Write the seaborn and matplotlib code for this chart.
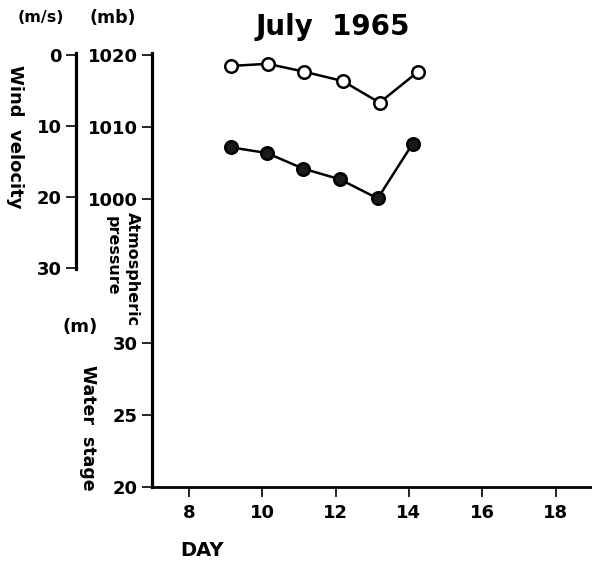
import matplotlib
matplotlib.use("Agg")
import matplotlib.pyplot as plt
import seaborn as sns
import pandas as pd

# ---- data ----
days_open = [9.15, 10.15, 11.15, 12.2, 13.2, 14.25]
pressure_mb = [1018.5, 1018.8, 1017.7, 1016.4, 1013.4, 1017.7]
days_filled = [9.15, 10.13, 11.12, 12.12, 13.15, 14.1]
wind_ms = [13.0, 13.8, 16.0, 17.5, 20.2, 12.5]

x_ticks = [8, 10, 12, 14, 16, 18]
pressure_ticks = [1000, 1010, 1020]
water_ticks = [20, 25, 30]
wind_ticks = [0, 10, 20, 30]

sns.set_style("white")
plt.rcParams["font.family"] = ["DejaVu Sans"]
plt.rcParams["font.weight"] = "bold"
plt.rcParams["text.color"] = "black"
plt.rcParams["axes.labelcolor"] = "black"
plt.rcParams["xtick.color"] = "black"
plt.rcParams["ytick.color"] = "black"

W, H = 592, 567
fig = plt.figure(figsize=(W / 100, H / 100), dpi=100)

def fx(px):
    return px / W

def fy(py):
    return 1 - py / H

TICK_FS = 13

# main axis: pressure (mb) on top part, water stage (m) mapped below
ax = fig.add_axes([fx(152), fy(487), fx(440), (487 - 53) / H])
ax.set_xlim(7, 7 + 440 / 36.7)
ax.set_ylim(960.4, 1020.3)

def water_to_axis(w):
    return 960 + 2 * (w - 20)

yt = [water_to_axis(w) for w in water_ticks] + pressure_ticks
yl = [str(w) for w in water_ticks] + [str(p) for p in pressure_ticks]
ax.set_yticks(yt)
ax.set_yticklabels(yl)
ax.set_xticks(x_ticks)
ax.set_xticklabels([str(d) for d in x_ticks])
for s in ["top", "right"]:
    ax.spines[s].set_visible(False)
ax.spines["left"].set_linewidth(2.3)
ax.spines["bottom"].set_linewidth(2.0)
ax.spines["left"].set_color("black")
ax.spines["bottom"].set_color("black")
ax.tick_params(axis="both", direction="out", length=7, width=1.2, colors="black",
               labelsize=TICK_FS, pad=3, left=True, bottom=True)
ax.tick_params(axis="x", pad=5)
for lab in ax.get_xticklabels() + ax.get_yticklabels():
    lab.set_fontweight("bold")

df_p = pd.DataFrame({"day": days_open, "p": pressure_mb})
sns.lineplot(data=df_p, x="day", y="p", ax=ax, color="black", linewidth=1.8,
             marker="o", markersize=9, markerfacecolor="white",
             markeredgecolor="black", markeredgewidth=1.8)
ax.set_xlabel("")
ax.set_ylabel("")

# wind velocity axis (inverted), left spine moved outward
ax2 = fig.add_axes([fx(152), fy(269.5), fx(440), (269.5 - 53) / H])
ax2.patch.set_visible(False)
ax2.set_xlim(ax.get_xlim())
ax2.set_ylim(30.2, -0.28)
df_w = pd.DataFrame({"day": days_filled, "w": wind_ms})
sns.lineplot(data=df_w, x="day", y="w", ax=ax2, color="black", linewidth=1.8,
             marker="o", markersize=9, markerfacecolor="#1a1a1a",
             markeredgecolor="black", markeredgewidth=1.8)
ax2.set_xlabel("")
ax2.set_ylabel("")
ax2.set_xticks([])
for s in ["top", "right", "bottom"]:
    ax2.spines[s].set_visible(False)
ax2.spines["left"].set_position(("outward", 76 * 0.72))
ax2.spines["left"].set_linewidth(2.3)
ax2.spines["left"].set_color("black")
ax2.set_yticks(wind_ticks)
ax2.set_yticklabels([str(w) for w in wind_ticks])
ax2.tick_params(axis="y", direction="out", length=7, width=1.2, colors="black",
                labelsize=TICK_FS, pad=3, left=True)
for lab in ax2.get_yticklabels():
    lab.set_fontweight("bold")

# texts
fig.text(fx(333), fy(27), "July  1965", ha="center", va="center",
         fontsize=20, fontweight="bold")
fig.text(fx(41), fy(18), "(m/s)", ha="center", va="center", fontsize=11.5, fontweight="bold")
fig.text(fx(113), fy(18), "(mb)", ha="center", va="center", fontsize=12.5, fontweight="bold")
fig.text(fx(15), fy(137), "Wind  velocity", ha="center", va="center",
         rotation=-90, fontsize=13, fontweight="bold")
fig.text(fx(132), fy(212), "Atmospheric", ha="center", va="top",
         rotation=-90, fontsize=11.5, fontweight="bold")
fig.text(fx(112), fy(216), "pressure", ha="center", va="top",
         rotation=-90, fontsize=11.5, fontweight="bold")
fig.text(fx(80), fy(327), "(m)", ha="center", va="center", fontsize=13, fontweight="bold")
fig.text(fx(88), fy(428), "Water  stage", ha="center", va="center",
         rotation=-90, fontsize=12.5, fontweight="bold")
fig.text(fx(202), fy(551), "DAY", ha="center", va="center", fontsize=14, fontweight="bold")

fig.savefig("out.png", dpi=100, facecolor="white")
